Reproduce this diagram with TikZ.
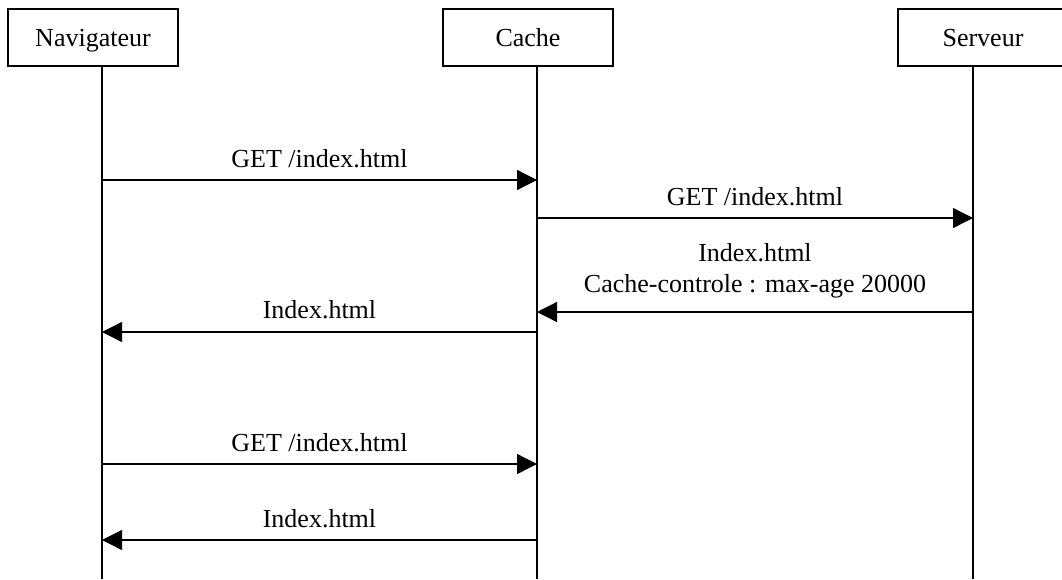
\documentclass[tikz,border=0pt]{standalone}
\usepackage{fontspec}
\setmainfont{Liberation Serif}
\usetikzlibrary{arrows.meta}
\begin{document}
\begin{tikzpicture}[x=1pt,y=-1pt,
  actor/.style={draw, line width=1.3pt, minimum width=170pt, minimum height=57pt, inner sep=0pt,
    font=\fontsize{26}{30}\selectfont, text height=17pt, text depth=0pt},
  lifeline/.style={line width=1.3pt},
  msg/.style={line width=1.3pt, -{Triangle[length=20pt,width=20pt]}},
  msglabel/.style={font=\fontsize{26}{30}\selectfont, anchor=base, inner sep=0pt}]
\clip (0,0) rectangle (1062,579);
\fill[white] (0,0) rectangle (1062,579);
% actors
\node[actor] (nav) at (93,37.5) {Navigateur};
\node[actor] (cache) at (528,37.5) {Cache};
\node[actor] (serv) at (983,37.5) {Serveur};
% lifeline ends
\coordinate (navT) at (102,66);   \coordinate (navB) at (102,579);
\coordinate (cacT) at (537,66);   \coordinate (cacB) at (537,579);
\coordinate (serT) at (973,66);   \coordinate (serB) at (973,579);
\draw[lifeline] (navT) -- (navB);
\draw[lifeline] (cacT) -- (cacB);
\draw[lifeline] (serT) -- (serB);
% message points
\coordinate (n1) at (102,180); \coordinate (c1) at (537,180);
\coordinate (c2) at (537,218); \coordinate (s2) at (973,218);
\coordinate (s3) at (973,312); \coordinate (c3) at (537,312);
\coordinate (c4) at (537,332); \coordinate (n4) at (102,332);
\coordinate (n5) at (102,464); \coordinate (c5) at (537,464);
\coordinate (c6) at (537,540); \coordinate (n6) at (102,540);
% messages
\draw[msg] (n1) -- (c1) node[msglabel, pos=0.5, yshift=13pt] (l1) {GET /index.html};
\draw[msg] (c2) -- (s2) node[msglabel, pos=0.5, yshift=13pt] (l2) {GET /index.html};
\draw[msg] (s3) -- (c3) node[msglabel, pos=0.5, yshift=20pt] (l3b) {Cache-controle : max-age 20000}
                        node[msglabel, pos=0.5, yshift=51pt] (l3a) {Index.html};
\draw[msg] (c4) -- (n4) node[msglabel, pos=0.5, yshift=14pt] (l4) {Index.html};
\draw[msg] (n5) -- (c5) node[msglabel, pos=0.5, yshift=13pt] (l5) {GET /index.html};
\draw[msg] (c6) -- (n6) node[msglabel, pos=0.5, yshift=13pt] (l6) {Index.html};
\end{tikzpicture}
\end{document}
